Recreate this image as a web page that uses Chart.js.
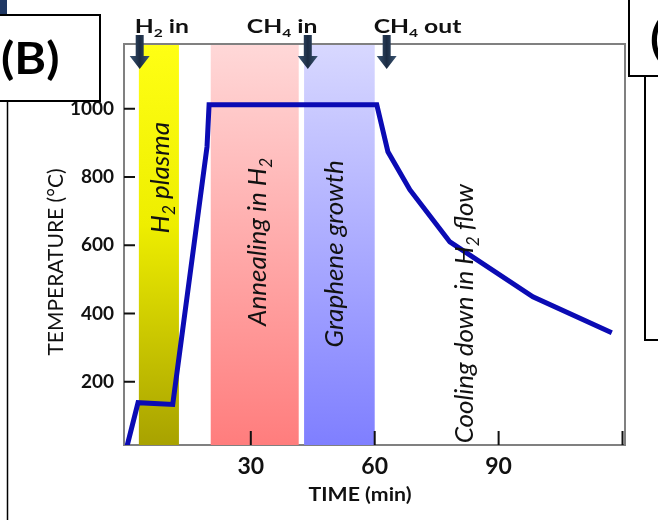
<!DOCTYPE html>
<html>
<head>
<meta charset="utf-8">
<script src="https://cdn.jsdelivr.net/npm/chart.js@4.4.1/dist/chart.umd.min.js"></script>
<style>
  html, body { margin: 0; padding: 0; background: #fff; }
  canvas { display: block; }
</style>
</head>
<body>
<canvas id="profile" width="658" height="520"></canvas>
<script>
// CVD run: furnace temperature against time
const timeMin = [0, 2.7, 11.1, 19.4, 19.9, 60.5, 63.2, 68.5, 78.2, 98.3, 117.4];
const tempC   = [10, 139, 134, 889, 1012, 1012, 874, 763, 610, 449, 344];

const xTicks = [30, 60, 90, 120];
const xTickLabels = ['30', '60', '90', ''];
const yTicks = [200, 400, 600, 800, 1000];

// process stages (shaded columns), '_' marks a subscript character
const stageNames = ['H_2 plasma', 'Annealing in H_2', 'Graphene growth'];
const stageStart = [2.9, 20.3, 42.9];
const stageEnd   = [12.6, 41.6, 60.0];
const coolingName = 'Cooling down in H_2 flow';

// gas switching events
const eventNames = ['H_2 in', 'CH_4 in', 'CH_4 out'];
const eventTime  = [3.1, 43.8, 62.9];

const FONT = 'Lato, "Open Sans", sans-serif';

const stageFills = [
  [[0, '#ffff14'], [0.45, '#eeee00'], [1, '#a8a200']],
  [[0, '#ffd8d8'], [1, '#ff7d7d']],
  [[0, '#d8d8ff'], [1, '#7f7fff']]
];
// where the rotated stage captions sit (time, temperature of their centre)
const captionAt = [[7.9, 798], [31.4, 610], [50.0, 575]];
const coolingAt = [81.5, 400];
// label left edge relative to its arrow, px
const eventLabelShift = [-5, -61, -13];

function splitRuns(text) {
  const out = [];
  let buf = '';
  for (let i = 0; i < text.length; i++) {
    if (text[i] === '_') {
      if (buf) out.push({ t: buf, sub: false });
      buf = '';
      out.push({ t: text[i + 1], sub: true });
      i++;
    } else {
      buf += text[i];
    }
  }
  if (buf) out.push({ t: buf, sub: false });
  return out;
}

// text with subscripts; sx widens the glyphs horizontally
function richText(ctx, text, x, y, size, style, align, sx = 1) {
  const parts = splitRuns(text);
  const main = `${style} ${size}px ${FONT}`;
  const small = `${style} ${Math.round(size * 0.65)}px ${FONT}`;
  let w = 0;
  parts.forEach(p => { ctx.font = p.sub ? small : main; p.w = ctx.measureText(p.t).width; w += p.w; });
  ctx.save();
  ctx.translate(x, y);
  ctx.scale(sx, 1);
  let cx = align === 'center' ? -w / 2 : 0;
  ctx.textAlign = 'left';
  ctx.textBaseline = 'alphabetic';
  parts.forEach(p => {
    ctx.font = p.sub ? small : main;
    ctx.fillText(p.t, cx, p.sub ? size * 0.22 : 0);
    cx += p.w;
  });
  ctx.restore();
}

function verticalText(ctx, text, cx, cy, size, style) {
  ctx.save();
  ctx.translate(cx, cy);
  ctx.rotate(-Math.PI / 2);
  richText(ctx, text, 0, size * 0.36, size, style, 'center');
  ctx.restore();
}

const stagesPlugin = {
  id: 'stages',
  beforeDatasetsDraw(chart) {
    const { ctx, chartArea: a, scales: { x, y } } = chart;
    ctx.save();
    stageStart.forEach((s, i) => {
      const x0 = x.getPixelForValue(s);
      const x1 = x.getPixelForValue(stageEnd[i]);
      const g = ctx.createLinearGradient(0, a.top, 0, a.bottom);
      stageFills[i].forEach(([stop, c]) => g.addColorStop(stop, c));
      ctx.fillStyle = g;
      ctx.fillRect(x0, a.top, x1 - x0, a.bottom - a.top);
    });
    ctx.fillStyle = '#111';
    stageNames.forEach((name, i) => {
      verticalText(ctx, name, x.getPixelForValue(captionAt[i][0]), y.getPixelForValue(captionAt[i][1]), 26, 'italic 400');
    });
    ctx.restore();
  },
  afterDatasetsDraw(chart) {
    const { ctx, scales: { x, y } } = chart;
    ctx.save();
    ctx.fillStyle = '#111';
    verticalText(ctx, coolingName, x.getPixelForValue(coolingAt[0]), y.getPixelForValue(coolingAt[1]), 26, 'italic 400');
    ctx.restore();
  }
};

const framePlugin = {
  id: 'frame',
  afterDraw(chart) {
    const { ctx, chartArea: a, scales: { x, y } } = chart;
    ctx.save();

    // top and right sides of the box
    ctx.strokeStyle = '#808080';
    ctx.lineWidth = 2;
    ctx.beginPath();
    ctx.moveTo(a.left, a.top);
    ctx.lineTo(a.right, a.top);
    ctx.lineTo(a.right, a.bottom);
    ctx.stroke();

    // inward tick marks
    ctx.strokeStyle = '#111';
    ctx.lineWidth = 2;
    ctx.beginPath();
    xTicks.forEach(v => {
      const px = Math.min(x.getPixelForValue(v), a.right - 1);
      ctx.moveTo(px, a.bottom);
      ctx.lineTo(px, a.bottom - 14);
    });
    yTicks.forEach(v => {
      const py = y.getPixelForValue(v);
      ctx.moveTo(a.left, py);
      ctx.lineTo(a.left + 11, py);
    });
    ctx.stroke();

    // axis titles
    ctx.fillStyle = '#111';
    ctx.font = `400 21px ${FONT}`;
    ctx.textAlign = 'center';
    ctx.textBaseline = 'middle';
    ctx.save();
    ctx.translate(56, 262);
    ctx.rotate(-Math.PI / 2);
    ctx.fillText('TEMPERATURE (°C)', 0, 0);
    ctx.restore();
    richText(ctx, 'TIME (min)', 360, 501, 19, '700', 'center', 1.12);

    // gas events: arrow + label
    eventTime.forEach((t, i) => {
      const px = x.getPixelForValue(t);
      const g = ctx.createLinearGradient(px - 10, 0, px + 10, 0);
      g.addColorStop(0, '#3b5674');
      g.addColorStop(0.5, '#1b2b42');
      g.addColorStop(1, '#3b5674');
      ctx.fillStyle = g;
      ctx.beginPath();
      ctx.moveTo(px - 4, 35);
      ctx.lineTo(px + 4, 35);
      ctx.lineTo(px + 4, 56);
      ctx.lineTo(px + 10, 56);
      ctx.lineTo(px, 69);
      ctx.lineTo(px - 10, 56);
      ctx.lineTo(px - 4, 56);
      ctx.closePath();
      ctx.fill();
      ctx.fillStyle = '#111';
      richText(ctx, eventNames[i], px + eventLabelShift[i], 33, 19, '700', 'left', 1.3);
    });

    // panel furniture
    ctx.fillStyle = '#1f3864';
    ctx.fillRect(0, 0, 7, 15);
    ctx.strokeStyle = '#000';
    ctx.lineWidth = 2;
    ctx.strokeRect(-2, 15, 102, 86);
    ctx.lineWidth = 1.5;
    ctx.beginPath();
    ctx.moveTo(7.5, 101);
    ctx.lineTo(7.5, 520);
    ctx.stroke();
    ctx.lineWidth = 2;
    ctx.strokeRect(629, -2, 40, 78);
    ctx.beginPath();
    ctx.moveTo(645, 76);
    ctx.lineTo(645, 340);
    ctx.lineTo(660, 340);
    ctx.stroke();

    ctx.fillStyle = '#000';
    richText(ctx, '(B)', 1, 74, 44, '700', 'left', 1.1);
    richText(ctx, '(', 650, 54, 44, '700', 'left', 1.1);

    ctx.restore();
  }
};

new Chart(document.getElementById('profile'), {
  type: 'scatter',
  data: {
    datasets: [{
      data: timeMin.map((t, i) => ({ x: t, y: tempC[i] })),
      showLine: true,
      borderColor: '#0b0bb4',
      borderWidth: 5,
      pointRadius: 0,
      tension: 0,
      borderJoinStyle: 'miter'
    }]
  },
  options: {
    responsive: false,
    devicePixelRatio: 1,
    animation: false,
    layout: { padding: { left: 0, top: 44, right: 33, bottom: 0 } },
    plugins: {
      legend: { display: false },
      tooltip: { enabled: false }
    },
    scales: {
      x: {
        type: 'linear',
        min: -0.7,
        max: 120.6,
        afterBuildTicks: scale => { scale.ticks = xTicks.map(v => ({ value: v })); },
        afterFit: scale => { scale.height = 75; },
        grid: { display: false, drawTicks: false },
        border: { display: true, color: '#808080', width: 2 },
        ticks: {
          padding: 8,
          color: '#111',
          font: { family: FONT, size: 23, weight: '700' },
          maxRotation: 0,
          callback: (v, i) => xTickLabels[i]
        }
      },
      y: {
        min: 15,
        max: 1190,
        afterBuildTicks: scale => { scale.ticks = yTicks.map(v => ({ value: v })); },
        afterFit: scale => { scale.width = 124; },
        grid: { display: false, drawTicks: false },
        border: { display: true, color: '#808080', width: 2 },
        ticks: {
          padding: 10,
          color: '#111',
          font: { family: FONT, size: 19, weight: '700' },
          callback: v => String(v)
        }
      }
    }
  },
  plugins: [stagesPlugin, framePlugin]
});
</script>
</body>
</html>
